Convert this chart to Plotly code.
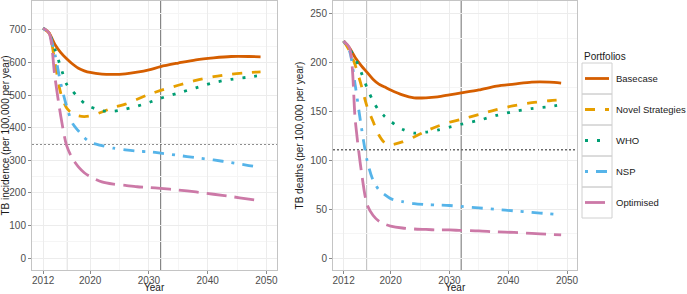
import plotly.graph_objects as go

# ---------------- data ----------------
years = [2012, 2013, 2014, 2015, 2016, 2017, 2018, 2019, 2020, 2022, 2024,
         2026, 2028, 2030, 2032, 2035, 2038, 2041, 2044, 2047, 2049]

portfolios = ["Basecase", "Novel Strategies", "WHO", "NSP", "Optimised"]

incidence_basecase = [705, 690, 655, 630, 611, 595, 582, 574, 569, 564, 563, 565, 570, 577, 587, 598, 608, 614, 618, 618, 617]
incidence_novel = [705, 690, 600, 505, 460, 443, 436, 434, 436, 448, 462, 472, 487, 502, 514, 530, 545, 556, 564, 569, 571]
incidence_who = [705, 688, 640, 585, 533, 512, 492, 475, 464, 452, 450, 457, 466, 477, 490, 506, 522, 538, 548, 555, 560]
incidence_nsp = [705, 688, 625, 535, 465, 413, 390, 370, 355, 345, 337, 332, 328, 326, 322, 315, 308, 301, 293, 284, 278]
incidence_optimised = [705, 690, 555, 435, 345, 305, 280, 262, 250, 234, 227, 223, 219, 217, 214, 209, 203, 196, 189, 181, 176]

deaths_basecase = [222, 215, 205, 197, 190, 183, 178, 175, 172, 167, 164, 164, 165, 167, 169, 172, 176, 178, 180, 180, 179]
deaths_novel = [222, 212, 197, 177, 155, 140, 126, 118, 116, 119, 124, 130, 135, 139, 142, 147, 152, 156, 159, 161, 162]
deaths_who = [222, 214, 204, 190, 174, 161, 151, 145, 140, 132, 128, 129, 131, 134, 137, 141, 146, 150, 153, 155, 157]
deaths_nsp = [222, 212, 176, 135, 100, 80, 70, 65, 61, 58, 56, 55, 54.5, 54, 53, 51.5, 50, 48.5, 47, 45.5, 44.5]
deaths_optimised = [222, 215, 140, 90, 55, 44, 38, 35, 33, 31, 30, 29.5, 29, 29, 28.5, 28, 27, 26.5, 25.5, 24.5, 24]

target_years = [2016, 2032]
incidence_target = 350
deaths_target = 111

x_ticks = [2012, 2020, 2030, 2040, 2050]
incidence_ticks = [0, 100, 200, 300, 400, 500, 600, 700]
deaths_ticks = [0, 50, 100, 150, 200, 250]
legend_title = "Portfolios"

# ---------------- styles ----------------
colors = ["#D55E00", "#E69F00", "#009E73", "#56B4E9", "#CC79A7"]
dashes = ["solid", "10px,10px", "3px,9px", "3px,8px,11px,8px", "20px,8px"]
LW = 2.8
FONT = "Liberation Sans"
TXT = "#4d4d4d"

incidence = [incidence_basecase, incidence_novel, incidence_who, incidence_nsp, incidence_optimised]
deaths = [deaths_basecase, deaths_novel, deaths_who, deaths_nsp, deaths_optimised]

fig = go.Figure()
for i, name in enumerate(portfolios):
    fig.add_trace(go.Scatter(
        x=years, y=incidence[i], name=name, mode="lines",
        line=dict(color=colors[i], width=LW, dash=dashes[i], shape="spline", smoothing=0.8),
        xaxis="x", yaxis="y", showlegend=False))
for i, name in enumerate(portfolios):
    fig.add_trace(go.Scatter(
        x=years, y=deaths[i], name=name, mode="lines",
        line=dict(color=colors[i], width=LW, dash=dashes[i], shape="spline", smoothing=0.8),
        xaxis="x2", yaxis="y2", showlegend=False))

shapes = []
for xr, yr, target in [("x", "y", incidence_target), ("x2", "y2", deaths_target)]:
    for ty in target_years:
        shapes.append(dict(type="line", xref=xr, yref=yr + " domain", x0=ty, x1=ty, y0=0, y1=1,
                           line=dict(color="#707070", width=1), layer="below"))
    shapes.append(dict(type="line", xref=xr + " domain", yref=yr, x0=0, x1=1, y0=target, y1=target,
                       line=dict(color="#6a6a6a", width=1.4, dash="2px,2px"), layer="below"))

# ---------------- manual legend (paper coords) ----------------
W, H = 687, 294
ML, MR, MT, MB = 32, 110, 1, 24
pw = W - ML - MR
ph = H - MT - MB
def px_x(p):
    return (p - ML) / pw
def px_y(p):
    return (H - MB - p) / ph

annotations = []
rows = [63, 94, 125, 156, 187, 218]
for k, name in enumerate(portfolios):
    shapes.append(dict(type="rect", xref="paper", yref="paper",
                       x0=px_x(582), x1=px_x(612), y0=px_y(rows[k + 1]), y1=px_y(rows[k]),
                       line=dict(color="#d0d0d0", width=1), fillcolor="rgba(0,0,0,0)"))
    yc = (rows[k] + rows[k + 1]) / 2
    shapes.append(dict(type="line", xref="paper", yref="paper",
                       x0=px_x(585), x1=px_x(609), y0=px_y(yc), y1=px_y(yc),
                       line=dict(color=colors[k], width=LW, dash=dashes[k])))
    annotations.append(dict(text=name, xref="paper", yref="paper", x=px_x(614), y=px_y(yc),
                            xanchor="left", yanchor="middle", showarrow=False,
                            font=dict(family=FONT, size=9.5, color="#1a1a1a")))
annotations.append(dict(text=legend_title, xref="paper", yref="paper", x=px_x(582), y=px_y(56),
                        xanchor="left", yanchor="middle", showarrow=False,
                        font=dict(family=FONT, size=10, color="#1a1a1a")))
# x-axis titles
for dom in ([0, 245 / 545], [301 / 545, 1]):
    annotations.append(dict(text="Year", xref="paper", yref="paper", x=(dom[0] + dom[1]) / 2,
                            y=px_y(294), xanchor="center", yanchor="bottom", showarrow=False,
                            yshift=-1, font=dict(family=FONT, size=10, color="#1a1a1a")))

axis_common = dict(
    showline=True, mirror=True, linecolor="#c4c4c4", linewidth=1,
    showgrid=True, gridcolor="#ececec", gridwidth=1,
    ticks="outside", ticklen=3, tickcolor="#8a8a8a", tickwidth=1,
    tickfont=dict(family=FONT, size=10, color=TXT),
    zeroline=False, automargin=False,
)

fig.update_layout(
    width=W, height=H,
    margin=dict(l=ML, r=MR, t=MT, b=MB),
    plot_bgcolor="white", paper_bgcolor="white",
    font=dict(family=FONT, size=10, color="#333333"),
    xaxis=dict(domain=[0, 245 / 545], range=[2010.1, 2051.8], tickvals=x_ticks,
               minor=dict(tickvals=[2016, 2025, 2035, 2045], showgrid=True, gridcolor="#f5f5f5"),
               anchor="y", ticklabelstandoff=-2, **axis_common),
    yaxis=dict(domain=[0, 1], range=[-36, 788], tickvals=incidence_ticks,
               minor=dict(tickvals=[50, 150, 250, 350, 450, 550, 650, 750], showgrid=True, gridcolor="#f5f5f5"),
               title=dict(text="TB incidence (per 100,000 per year)", standoff=4,
                          font=dict(family=FONT, size=10, color="#1a1a1a")),
               anchor="x", **axis_common),
    xaxis2=dict(domain=[301 / 545, 1], range=[2010.2, 2051.7], tickvals=x_ticks,
                minor=dict(tickvals=[2016, 2025, 2035, 2045], showgrid=True, gridcolor="#f5f5f5"),
                anchor="y2", ticklabelstandoff=-2, **axis_common),
    yaxis2=dict(domain=[0, 1], range=[-11.9, 262.9], tickvals=deaths_ticks,
                minor=dict(tickvals=[25, 75, 125, 175, 225], showgrid=True, gridcolor="#f5f5f5"),
                title=dict(text="TB deaths (per 100,000 per year)", standoff=4,
                           font=dict(family=FONT, size=10, color="#1a1a1a")),
                anchor="x2", **axis_common),
    shapes=shapes,
    annotations=annotations,
    showlegend=False,
)

fig.write_html("out.html", config={"displayModeBar": False, "staticPlot": True},
               post_script="document.body.style.margin='0';document.body.style.overflow='hidden';")
